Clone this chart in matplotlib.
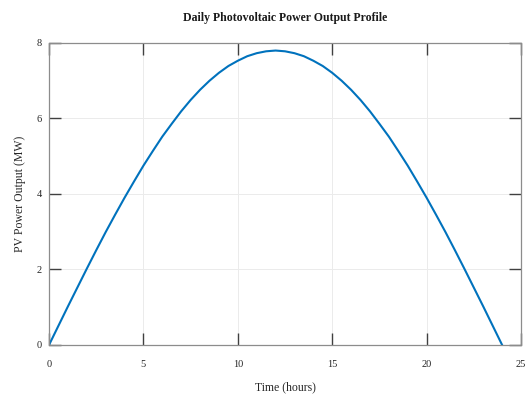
"""
Daily PV power output profile, MATLAB-style line plot
"""
import matplotlib.pyplot as plt
import numpy as np

# Time of day (hours), sampled every half hour
hours = np.arange(0, 24.5, 0.5)

# PV power output (MW)
pv_power = [0.00, 0.51, 1.02, 1.52, 2.02, 2.51, 2.99, 3.45, 3.90, 4.33,
            4.75, 5.14, 5.52, 5.86, 6.19, 6.49, 6.76, 7.00, 7.21, 7.39,
            7.53, 7.65, 7.73, 7.78, 7.80, 7.78, 7.73, 7.65, 7.53, 7.39,
            7.21, 7.00, 6.76, 6.49, 6.19, 5.86, 5.52, 5.14, 4.75, 4.33,
            3.90, 3.45, 2.99, 2.51, 2.02, 1.52, 1.02, 0.51, 0.00]

x_ticks = [0, 5, 10, 15, 20, 25]
y_ticks = [0, 2, 4, 6, 8]

plt.rcParams['font.family'] = ['Liberation Serif', 'DejaVu Serif']

fig = plt.figure(figsize=(5.31, 3.97), dpi=100)
ax = fig.add_axes([0.0923, 0.131, 0.8889, 0.7607])

ax.plot(hours, pv_power, color='#0072BD', linewidth=1.5)

ax.set_xlim(0, 25)
ax.set_ylim(0, 8)
ax.set_xticks(x_ticks)
ax.set_yticks(y_ticks)

ax.grid(True, color='#ebebeb', linewidth=0.7)
ax.set_axisbelow(True)

for s in ax.spines.values():
    s.set_color('#8c8c8c')
    s.set_linewidth(0.9)

ax.tick_params(direction='in', length=8.6, width=1.0, color='#404040',
               top=True, right=True, labelsize=7.5, labelcolor='#262626')
ax.tick_params(axis='x', pad=11)
ax.tick_params(axis='y', pad=5)

ax.set_title('Daily Photovoltaic Power Output Profile', fontsize=8.5,
             fontweight='bold', color='#1a1a1a', pad=16)
ax.set_xlabel('Time (hours)', fontsize=8.5, color='#262626', labelpad=9)
ax.set_ylabel('PV Power Output (MW)', fontsize=8.5, color='#262626', labelpad=8)

plt.savefig('out.png', dpi=100)
plt.close()
